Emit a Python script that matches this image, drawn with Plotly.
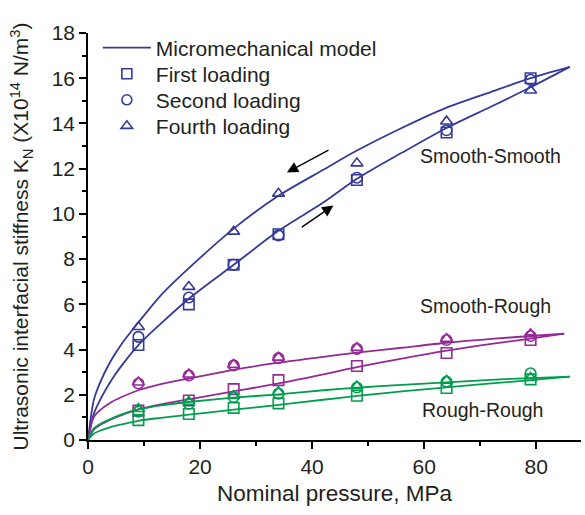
import plotly.graph_objects as go

# ---------------- data ----------------
pressure = [9, 18, 26, 34, 48, 64, 79]

ss_first = [4.2, 6.0, 7.75, 9.1, 11.5, 13.6, 16.0]
ss_second = [4.56, 6.3, 7.75, 9.05, 11.6, 13.7, 15.93]
ss_fourth = [5.0, 6.78, 9.22, 10.9, 12.24, 14.09, 15.46]

sr_first = [1.3, 1.75, 2.25, 2.65, 3.27, 3.85, 4.42]
sr_second = [2.5, 2.85, 3.3, 3.62, 4.03, 4.42, 4.6]
sr_fourth = [2.55, 2.9, 3.33, 3.65, 4.08, 4.48, 4.68]

rr_first = [0.88, 1.15, 1.42, 1.62, 1.96, 2.3, 2.68]
rr_second = [1.25, 1.6, 1.9, 2.05, 2.32, 2.58, 2.95]
rr_fourth = [1.38, 1.7, 1.95, 2.12, 2.38, 2.63, 2.75]

# micromechanical model curves
model_p = [0, 1, 2, 4, 6, 9, 13, 18, 26, 34, 42, 48, 56, 64, 72, 79, 86]
ss_model_up = [0, 1.73, 2.45, 3.47, 4.25, 5.2, 6.4, 7.6, 9.35, 10.8, 11.95, 12.8, 13.8, 14.7, 15.4, 16.0, 16.5]
ss_model_low = [0, 1.13, 1.7, 2.58, 3.29, 4.2, 5.15, 6.25, 7.75, 9.25, 10.5, 11.55, 12.7, 13.8, 14.75, 15.6, 16.5]

model_p2 = [0, 1, 2, 4, 6, 9, 13, 18, 26, 34, 42, 48, 56, 64, 72, 79, 85]
sr_model_up = [0, 1.0, 1.29, 1.65, 1.9, 2.2, 2.47, 2.72, 3.1, 3.42, 3.68, 3.86, 4.08, 4.3, 4.47, 4.6, 4.7]
sr_model_low = [0, 0.45, 0.64, 0.9, 1.1, 1.35, 1.57, 1.8, 2.15, 2.5, 2.9, 3.22, 3.6, 3.95, 4.25, 4.48, 4.7]

model_p3 = [0, 1, 2, 4, 6, 9, 13, 18, 26, 34, 42, 48, 56, 64, 72, 79, 86]
rr_model_up = [0, 0.5, 0.69, 0.93, 1.13, 1.35, 1.53, 1.68, 1.87, 2.02, 2.2, 2.31, 2.44, 2.55, 2.66, 2.74, 2.8]
rr_model_low = [0, 0.28, 0.4, 0.57, 0.69, 0.85, 0.98, 1.12, 1.34, 1.55, 1.78, 1.95, 2.15, 2.33, 2.5, 2.65, 2.8]

group_labels = ["Smooth-Smooth", "Smooth-Rough", "Rough-Rough"]
group_label_pos = [(71.8, 12.57), (71.0, 5.93), (70.5, 1.33)]

legend_names = ["Micromechanical model", "First loading", "Second loading", "Fourth loading"]
legend_symbols = [None, "square-open", "circle-open", "triangle-up-open"]

BLUE = "rgb(52,58,152)"
PURPLE = "rgb(148,42,148)"
GREEN = "rgb(0,158,78)"
TEXT = "#231f20"
FONT = "Arial, Liberation Sans, sans-serif"

fig = go.Figure()

groups = [
    (BLUE, (model_p, ss_model_up, ss_model_low), ss_first, ss_second, ss_fourth),
    (PURPLE, (model_p2, sr_model_up, sr_model_low), sr_first, sr_second, sr_fourth),
    (GREEN, (model_p3, rr_model_up, rr_model_low), rr_first, rr_second, rr_fourth),
]

for color, (mp, up, low), f1, f2, f4 in groups:
    for curve in (up, low):
        fig.add_trace(go.Scatter(x=mp, y=curve, mode="lines",
                                 line=dict(color=color, width=1.8, shape="spline", smoothing=0.8),
                                 showlegend=False, hoverinfo="skip"))
    for vals, sym in ((f1, "square-open"), (f2, "circle-open"), (f4, "triangle-up-open")):
        fig.add_trace(go.Scatter(x=pressure, y=vals, mode="markers",
                                 marker=dict(symbol=sym, size=10.5, color=color,
                                             line=dict(color=color, width=1.6)),
                                 showlegend=False))

# legend entries, one legend per row so row spacing matches
legend_ids = ["legend", "legend2", "legend3", "legend4"]
legend_y = [0.963, 0.899, 0.835, 0.771]
for nm, sym, lid in zip(legend_names, legend_symbols, legend_ids):
    if sym is None:
        fig.add_trace(go.Scatter(x=[None], y=[None], mode="lines", name=nm, legend=lid,
                                 line=dict(color=BLUE, width=1.8)))
    else:
        fig.add_trace(go.Scatter(x=[None], y=[None], mode="markers", name=nm, legend=lid,
                                 marker=dict(symbol=sym, size=10, color=BLUE,
                                             line=dict(color=BLUE, width=1.6))))

for lab, (lx, ly) in zip(group_labels, group_label_pos):
    fig.add_annotation(x=lx, y=ly, text=lab, showarrow=False,
                       font=dict(size=19.5, color=TEXT, family=FONT))

# direction arrows
fig.add_annotation(x=35.5, y=11.83, ax=43.2, ay=12.86, axref="x", ayref="y",
                   xref="x", yref="y", text="", showarrow=True,
                   arrowhead=2, arrowsize=1.6, arrowwidth=1.4, arrowcolor="black")
fig.add_annotation(x=43.8, y=10.37, ax=37.9, ay=9.37, axref="x", ayref="y",
                   xref="x", yref="y", text="", showarrow=True,
                   arrowhead=2, arrowsize=1.6, arrowwidth=1.4, arrowcolor="black")

axis_common = dict(showline=True, linecolor="black", linewidth=1.5, ticks="outside",
                   tickcolor="black", tickwidth=1.5, ticklen=7, showgrid=False,
                   zeroline=False, tickfont=dict(size=21, color=TEXT, family=FONT))

legend_common = dict(x=0.02, xanchor="left", yanchor="middle", bgcolor="rgba(0,0,0,0)",
                     font=dict(size=21, color=TEXT, family=FONT), itemwidth=48)

fig.update_layout(
    width=585, height=515,
    margin=dict(l=88, r=4, t=33, b=75),
    paper_bgcolor="white", plot_bgcolor="white",
    font=dict(family=FONT, color=TEXT),
    xaxis=dict(range=[0, 88], tickvals=[0, 20, 40, 60, 80],
               minor=dict(tickvals=[10, 30, 50, 70], ticks="outside", ticklen=4,
                          tickcolor="black", tickwidth=1.5),
               title=dict(text="Nominal pressure, MPa", font=dict(size=22.5, color=TEXT, family=FONT),
                          standoff=8),
               **axis_common),
    yaxis=dict(range=[0, 18], tickvals=list(range(0, 19, 2)),
               minor=dict(tickvals=list(range(1, 18, 2)), ticks="outside", ticklen=4,
                          tickcolor="black", tickwidth=1.5),
               title=dict(text="Ultrasonic interfacial stiffness K<sub>N</sub> (X10<sup>14</sup> N/m<sup>3</sup>)",
                          font=dict(size=21, color=TEXT, family=FONT), standoff=17),
               **axis_common),
    legend=dict(y=legend_y[0], **legend_common),
    legend2=dict(y=legend_y[1], **legend_common),
    legend3=dict(y=legend_y[2], **legend_common),
    legend4=dict(y=legend_y[3], **legend_common),
    showlegend=True,
)

fig.write_html("out.html")
